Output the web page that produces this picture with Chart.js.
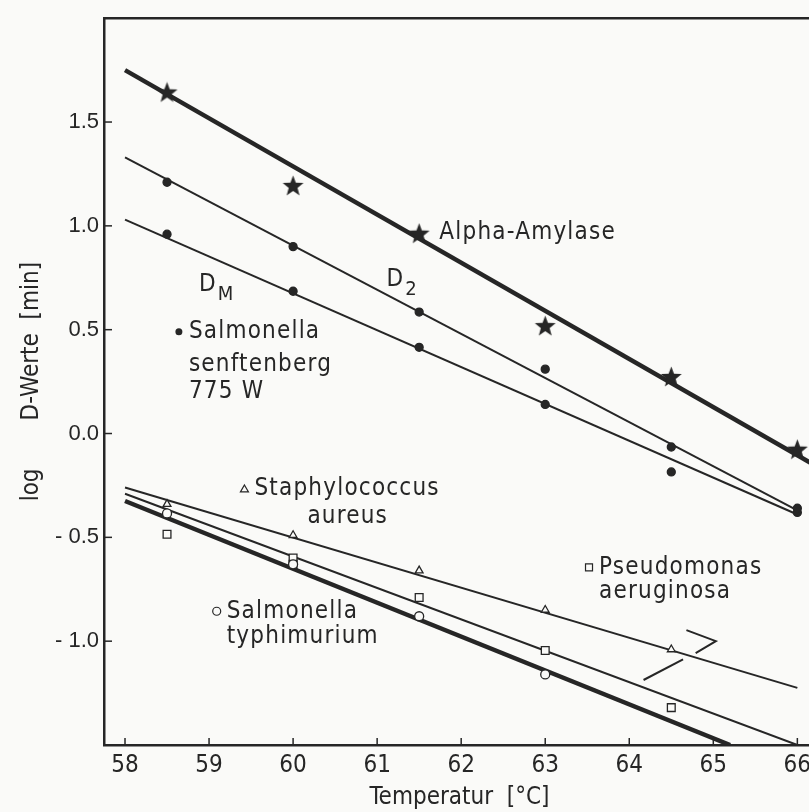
<!DOCTYPE html>
<html>
<head>
<meta charset="utf-8">
<script src="https://cdn.jsdelivr.net/npm/chart.js@4.4.0/dist/chart.umd.min.js"></script>
<style>
  html, body { margin: 0; padding: 0; background: #fafaf8; overflow: hidden; }
  #wrap { width: 830px; height: 812px; }
</style>
</head>
<body>
<div id="wrap"><canvas id="chart" width="830" height="812"></canvas></div>
<script>
// Temperatures of the measured points (°C)
const temps = [58.5, 60, 61.5, 63, 64.5, 66];

// log D-values
const amylase = [1.64, 1.19, 0.96, 0.515, 0.27, -0.08];
const senftD2 = [1.21, 0.90, 0.585, 0.31, -0.065, -0.36];
const senftDM = [0.96, 0.685, 0.415, 0.14, -0.185, -0.38];
const staphTemps = [58.5, 60, 61.5, 63, 64.5];
const staph = [-0.34, -0.49, -0.66, -0.85, -1.04];
const pseudTemps = [58.5, 60, 60, 61.5, 63, 64.5];
const pseud = [-0.485, -0.60, -0.63, -0.79, -1.045, -1.32];
const typhiTemps = [58.5, 60, 61.5, 63];
const typhi = [-0.385, -0.63, -0.88, -1.16];

// regression lines: [x start, x end] and [y start, y end]
const amylaseFitX = [58, 66.25];
const amylaseFitY = [1.75, -0.163];
const d2FitX = [58, 66];
const d2FitY = [1.33, -0.37];
const dmFitX = [58, 66];
const dmFitY = [1.03, -0.39];
const staphFitX = [58, 66];
const staphFitY = [-0.26, -1.225];
const pseudFitX = [58, 66];
const pseudFitY = [-0.29, -1.50];
const typhiFitX = [58, 65.2];
const typhiFitY = [-0.325, -1.50];

// bracket strokes near the lower right
const bracketA = [[64.68, -0.947], [65.03, -1.0], [64.79, -1.058]];
const bracketB = [[64.17, -1.187], [64.64, -1.088]];

// axis ticks
const xTicks = [58, 59, 60, 61, 62, 63, 64, 65, 66];
const yTicks = [-1.0, -0.5, 0.0, 0.5, 1.0, 1.5];

const ink = '#262626';
const paper = '#fafaf8';
const labelFont = '"DejaVu Sans Condensed", "DejaVu Sans", sans-serif';

// text placed in the plot (data coordinates of left edge / vertical middle)
const notes = [
  { text: 'Alpha-Amylase', x: 61.74, y: 0.965 },
  { text: 'D', sub: 'M', x: 58.88, y: 0.716 },
  { text: 'D', sub: '2', x: 61.11, y: 0.74 },
  { mark: 'dot', text: 'Salmonella', x: 58.76, y: 0.49 },
  { text: 'senftenberg', x: 58.76, y: 0.333 },
  { text: '775 W', x: 58.76, y: 0.199 },
  { mark: 'tri', text: 'Staphylococcus', x: 59.54, y: -0.267 },
  { text: 'aureus', x: 60.17, y: -0.40 },
  { mark: 'square', text: 'Pseudomonas', x: 63.64, y: -0.645 },
  { text: 'aeruginosa', x: 63.64, y: -0.76 },
  { mark: 'circle', text: 'Salmonella', x: 59.21, y: -0.856 },
  { text: 'typhimurium', x: 59.21, y: -0.981 }
];

function pts(xs, ys) {
  return xs.map((x, i) => ({ x: x, y: ys[i] }));
}

// filled five-pointed star used as point style
function makeStar(size) {
  const c = document.createElement('canvas');
  c.width = size;
  c.height = size;
  const g = c.getContext('2d');
  const r1 = size / 2 - 0.5, r2 = r1 * 0.42;
  g.beginPath();
  for (let i = 0; i < 10; i++) {
    const r = i % 2 ? r2 : r1;
    const a = -Math.PI / 2 + i * Math.PI / 5;
    g.lineTo(size / 2 + r * Math.cos(a), size / 2 + r * Math.sin(a));
  }
  g.closePath();
  g.fillStyle = ink;
  g.fill();
  return c;
}

function markerSet(data, style, radius, fill) {
  return {
    data: data,
    showLine: false,
    pointStyle: style,
    pointRadius: radius,
    pointBackgroundColor: fill,
    pointBorderColor: ink,
    pointBorderWidth: 1.3
  };
}

function lineSet(data, width) {
  return {
    data: data,
    showLine: true,
    borderColor: ink,
    borderWidth: width,
    pointRadius: 0,
    tension: 0
  };
}

const decor = {
  id: 'decor',
  afterDraw(chart) {
    const { ctx, chartArea: a, scales: { x, y } } = chart;
    ctx.save();
    ctx.strokeStyle = ink;
    ctx.lineWidth = 2.5;
    // frame top and right
    ctx.beginPath();
    ctx.moveTo(a.left, a.top);
    ctx.lineTo(a.right, a.top);
    ctx.lineTo(a.right, a.bottom);
    ctx.stroke();
    // inward ticks
    ctx.lineWidth = 1.5;
    yTicks.forEach(v => {
      const py = y.getPixelForValue(v);
      ctx.beginPath();
      ctx.moveTo(a.left, py);
      ctx.lineTo(a.left + 8, py);
      ctx.stroke();
    });
    xTicks.forEach(v => {
      const px = x.getPixelForValue(v);
      ctx.beginPath();
      ctx.moveTo(px, a.bottom);
      ctx.lineTo(px, a.bottom - 7);
      ctx.stroke();
    });

    // labels
    ctx.fillStyle = ink;
    ctx.textBaseline = 'middle';
    ctx.textAlign = 'left';
    ctx.letterSpacing = '1.2px';
    notes.forEach(n => {
      const px = x.getPixelForValue(n.x);
      const py = y.getPixelForValue(n.y);
      ctx.font = '24px ' + labelFont;
      ctx.fillText(n.text, px, py);
      if (n.sub) {
        const w = ctx.measureText(n.text).width;
        ctx.font = '20px ' + labelFont;
        ctx.fillText(n.sub, px + w + 1, py + 10);
      }
      if (n.mark) {
        const mx = px - 10;
        ctx.lineWidth = 1.2;
        ctx.beginPath();
        if (n.mark === 'dot') {
          ctx.arc(mx, py, 3.5, 0, Math.PI * 2);
          ctx.fill();
        } else if (n.mark === 'tri') {
          ctx.moveTo(mx, py - 4);
          ctx.lineTo(mx + 4, py + 3);
          ctx.lineTo(mx - 4, py + 3);
          ctx.closePath();
          ctx.stroke();
        } else if (n.mark === 'square') {
          ctx.rect(mx - 3.5, py - 3.5, 7, 7);
          ctx.stroke();
        } else {
          ctx.arc(mx, py, 4, 0, Math.PI * 2);
          ctx.stroke();
        }
      }
    });
    ctx.restore();
  }
};

const star = makeStar(23);

new Chart(document.getElementById('chart'), {
  type: 'scatter',
  data: {
    datasets: [
      markerSet(pts(temps, amylase), star, 11, ink),
      markerSet(pts(temps, senftD2), 'circle', 4, ink),
      markerSet(pts(temps, senftDM), 'circle', 4, ink),
      markerSet(pts(staphTemps, staph), 'triangle', 4.5, paper),
      markerSet(pts(typhiTemps, typhi), 'circle', 4.5, paper),
      markerSet(pts(pseudTemps, pseud), 'rect', 5.5, paper),
      lineSet(pts(amylaseFitX, amylaseFitY), 4.5),
      lineSet(pts(d2FitX, d2FitY), 2),
      lineSet(pts(dmFitX, dmFitY), 2),
      lineSet(pts(staphFitX, staphFitY), 2),
      lineSet(pts(pseudFitX, pseudFitY), 2),
      lineSet(pts(typhiFitX, typhiFitY), 4.5),
      lineSet(bracketA.map(p => ({ x: p[0], y: p[1] })), 2),
      lineSet(bracketB.map(p => ({ x: p[0], y: p[1] })), 2)
    ]
  },
  options: {
    responsive: false,
    animation: false,
    layout: { padding: { top: 15, right: 15, left: 0, bottom: 0 } },
    plugins: { legend: { display: false }, tooltip: { enabled: false } },
    scales: {
      x: {
        type: 'linear',
        min: 57.75,
        max: 66.21,
        afterFit: s => { s.height = 67; },
        afterBuildTicks: s => { s.ticks = xTicks.map(v => ({ value: v })); },
        grid: { drawOnChartArea: false, drawTicks: false },
        border: { color: ink, width: 2.5 },
        ticks: {
          padding: 6,
          color: ink,
          font: { family: labelFont, size: 24 },
          callback: v => String(v)
        },
        title: {
          display: true,
          text: 'Temperatur  [°C]',
          color: ink,
          padding: { top: 0, bottom: 0 },
          font: { family: labelFont, size: 24 }
        }
      },
      y: {
        type: 'linear',
        min: -1.5,
        max: 2.0,
        afterFit: s => { s.width = 104; },
        afterBuildTicks: s => { s.ticks = yTicks.map(v => ({ value: v })); },
        grid: { drawOnChartArea: false, drawTicks: false },
        border: { color: ink, width: 2.5 },
        ticks: {
          padding: 5,
          color: ink,
          font: { family: '"Liberation Sans", Arial, sans-serif', size: 22 },
          callback: v => v < 0 ? '- ' + Math.abs(v).toFixed(1) : v.toFixed(1)
        },
        title: {
          display: true,
          text: 'log       D-Werte  [min]',
          color: ink,
          padding: { top: 17, bottom: 0 },
          font: { family: labelFont, size: 24 }
        }
      }
    }
  },
  plugins: [decor]
});
</script>
</body>
</html>
